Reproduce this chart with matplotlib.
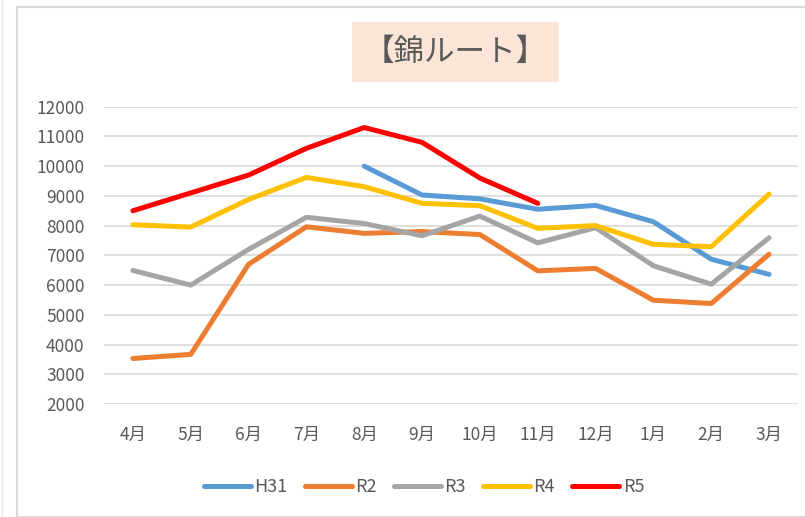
import matplotlib
matplotlib.use("Agg")
import matplotlib.pyplot as plt
from matplotlib.patches import Rectangle
from matplotlib.lines import Line2D
import numpy as np

plt.rcParams['font.family'] = ['Noto Sans CJK JP', 'DejaVu Sans']

# データ
months = ['4月', '5月', '6月', '7月', '8月', '9月', '10月', '11月', '12月', '1月', '2月', '3月']
h31 = [None, None, None, None, 10000, 9030, 8900, 8550, 8680, 8130, 6870, 6360]
r2 = [3530, 3670, 6700, 7960, 7740, 7800, 7700, 6480, 6560, 5490, 5380, 7040]
r3 = [6490, 6000, 7200, 8280, 8070, 7660, 8320, 7420, 7930, 6650, 6030, 7590]
r4 = [8030, 7950, 8880, 9620, 9310, 8750, 8670, 7910, 8000, 7370, 7290, 9060]
r5 = [8500, 9100, 9700, 10600, 11300, 10800, 9600, 8750, None, None, None, None]

series = [('H31', h31, '#5B9BD5'), ('R2', r2, '#ED7D31'), ('R3', r3, '#A5A5A5'),
          ('R4', r4, '#FFC000'), ('R5', r5, '#FF0000')]

txt = '#595959'

fig = plt.figure(figsize=(8.05, 5.17), dpi=100)
W, H = 805, 517

# 外枠
fig.patches.append(Rectangle((17 / W, 0), 1.0, 1 - 7 / H, transform=fig.transFigure,
                             fill=False, edgecolor='#D9D9D9', linewidth=1.5))
fig.lines.append(Line2D([2 / W, 2 / W], [0, 1], transform=fig.transFigure,
                        color='#E6E6E6', linewidth=1.0))

ax = fig.add_axes([104 / W, 1 - 404 / H, (798 - 104) / W, (404 - 106.7) / H])

x = np.arange(len(months)) + 0.5
for name, vals, col in series:
    y = np.array([np.nan if v is None else v for v in vals], dtype=float)
    ax.plot(x, y, color=col, linewidth=3.6, solid_capstyle='round',
            solid_joinstyle='round', label=name)

ax.set_xlim(0, len(months))
ax.set_ylim(2000, 12000)
ax.set_yticks(range(2000, 12001, 1000))
ax.set_xticks(x)
ax.set_xticklabels(months)
ax.grid(axis='y', color='#D9D9D9', linewidth=1.2)
ax.set_axisbelow(True)
for s in ax.spines.values():
    s.set_visible(False)
ax.tick_params(axis='both', length=0, labelsize=12.5, colors=txt)
ax.tick_params(axis='x', pad=16)
ax.tick_params(axis='y', pad=14)

# タイトル
fig.patches.append(Rectangle((352 / W, 1 - 82 / H), (559 - 352) / W, 60 / H,
                             transform=fig.transFigure, facecolor='#FBE5D6',
                             edgecolor='none'))
fig.text(455.5 / W, 1 - 52 / H, '【錦ルート】', ha='center', va='center',
         fontsize=22, color=txt)

leg = fig.legend(loc='center', bbox_to_anchor=(424 / W, 1 - 487 / H), ncol=5,
                 frameon=False, fontsize=13, handlelength=2.6,
                 handletextpad=0.2, columnspacing=0.95)
for t in leg.get_texts():
    t.set_color(txt)

fig.savefig('out.png', dpi=100)
